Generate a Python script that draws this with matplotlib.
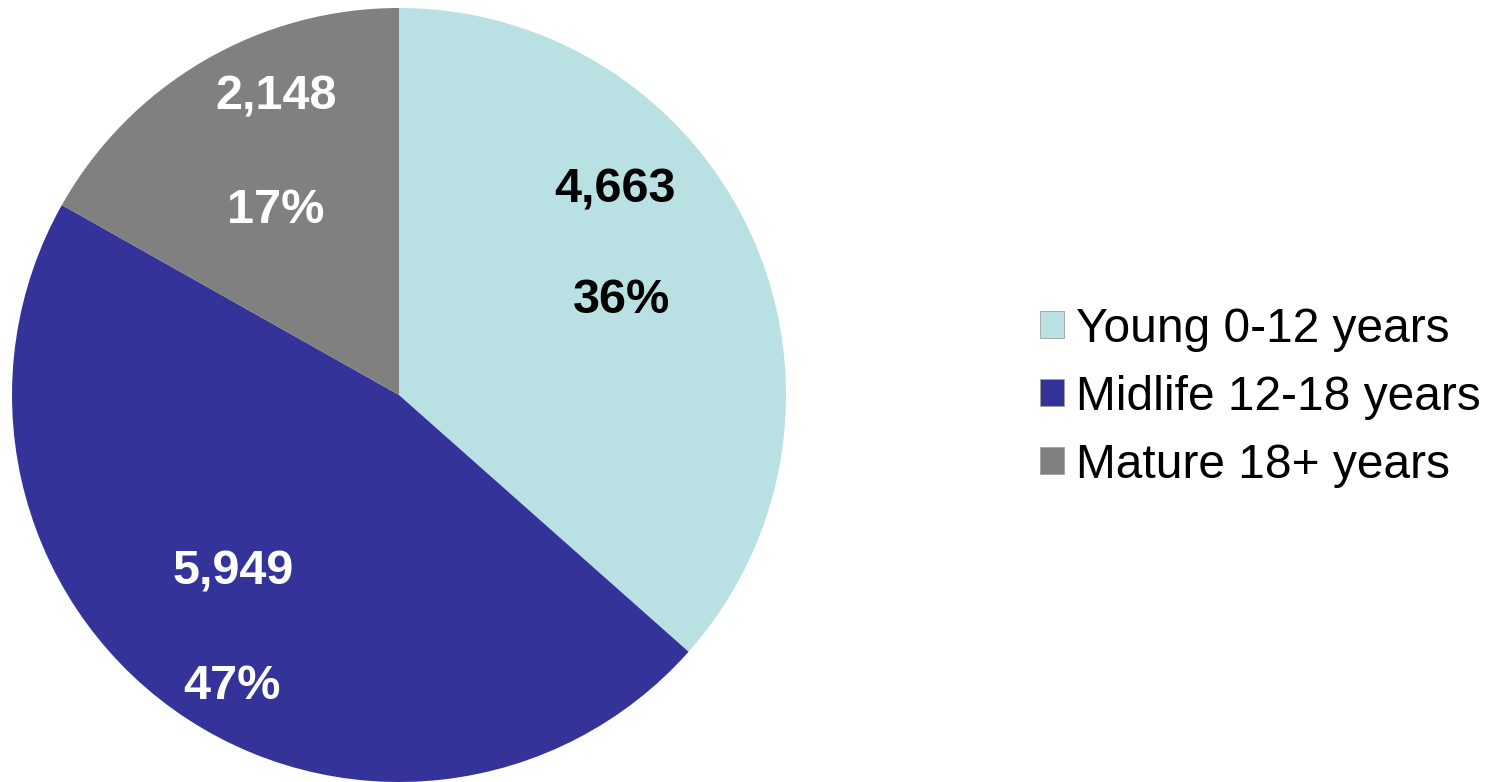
import matplotlib.pyplot as plt
from matplotlib.patches import Patch

plt.rcParams['font.family'] = ['Liberation Sans', 'DejaVu Sans']

# data
categories = ['Young 0-12 years', 'Midlife 12-18 years', 'Mature 18+ years']
counts = [4663, 5949, 2148]
percents = ['36%', '47%', '17%']  # as printed on the chart
colors = ['#B9E0E3', '#343399', '#808080']
label_colors = ['black', 'white', 'white']
# label centres (count line, percent line) in pie units, radius = 1
count_pos = [(0.558, 0.530), (-0.429, -0.457), (-0.318, 0.770)]
pct_pos = [(0.576, 0.245), (-0.432, -0.752), (-0.318, 0.478)]

fig = plt.figure(figsize=(14.96, 7.82), dpi=100)
ax = fig.add_axes([12 / 1496, 0, 774 / 1496, 774 / 782])
wedges, _ = ax.pie(counts, colors=colors, startangle=90, counterclock=False,
                   radius=1, wedgeprops=dict(linewidth=0))
ax.set_xlim(-1, 1)
ax.set_ylim(-1, 1)
ax.set_aspect('auto')
ax.axis('off')

for i, c in enumerate(counts):
    ax.text(*count_pos[i], f'{c:,}', ha='center', va='center', fontsize=35,
            fontweight='bold', color=label_colors[i])
    ax.text(*pct_pos[i], percents[i], ha='center', va='center', fontsize=35,
            fontweight='bold', color=label_colors[i])

handles = [Patch(facecolor=col, edgecolor='#A0A0A0', linewidth=0.6) for col in colors]
fig.legend(handles, categories, loc='center left', bbox_to_anchor=(1040 / 1496, 1 - 397 / 782),
           frameon=False, fontsize=34.5, handlelength=0.5, handleheight=0.5,
           handletextpad=0.25, labelspacing=0.48, borderpad=0, borderaxespad=0)

plt.savefig('out.png', dpi=100)
